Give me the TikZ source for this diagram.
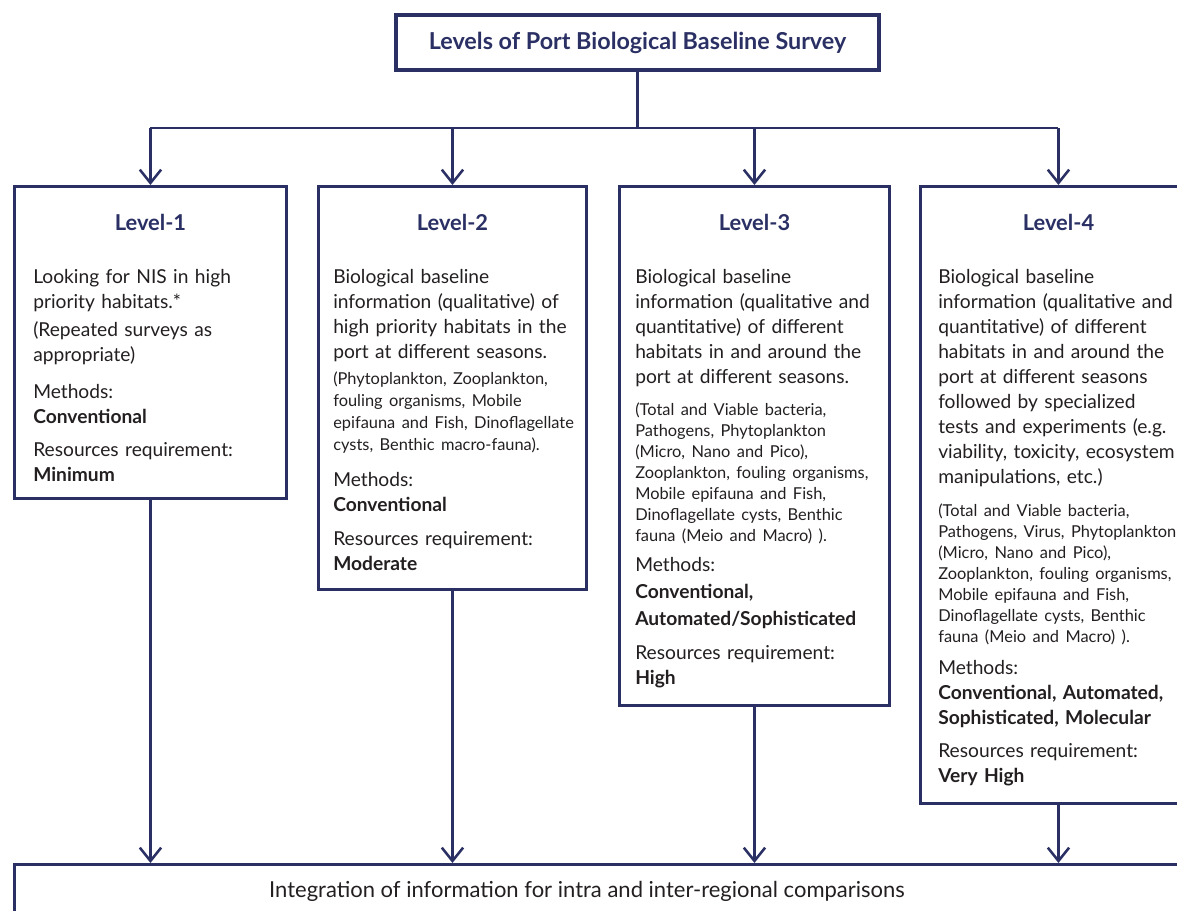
\documentclass[tikz,border=0pt]{standalone}
\usepackage{fontspec}
\setmainfont{Lato}
\usepackage{xcolor}
\usepackage{tikz}
\usetikzlibrary{positioning,arrows.meta}

\definecolor{navy}{RGB}{42,48,100}
\definecolor{ink}{RGB}{35,31,32}
\newlength{\px}
\setlength{\px}{0.75pt}
\newcommand{\bodysize}{\fontsize{14.4}{18.75}\selectfont}
\newcommand{\notesize}{\fontsize{12.3}{15.75}\selectfont}

\begin{document}
\begin{tikzpicture}[
    x=0.75pt, y=-0.75pt,
    titlebox/.style={rectangle, draw=navy, line width=2.3pt, minimum width=483*\px, minimum height=55*\px, font=\fontsize{17.5}{20}\selectfont\bfseries, text=navy},
    levelbox/.style={rectangle, draw=navy, line width=2.2pt, anchor=north west, inner sep=0pt},
    head/.style={font=\fontsize{16.4}{19}\selectfont\bfseries, text=navy},
    body/.style={anchor=north west, inner sep=0pt, align=left, text=ink, font=\bodysize},
    link/.style={draw=navy, line width=1.9pt},
    arrow/.style={link, -{Straight Barb[length=10pt, width=16pt]}}
]
\clip (0,0) rectangle (1177,910);
\useasboundingbox (0,0) rectangle (1177,910);

\node[titlebox] (title) at (637.5,42.5) {Levels of Port Biological Baseline Survey};
\coordinate (split) at (637.5,128);

% the four levels
\node[levelbox, minimum width=272*\px, minimum height=312*\px] (l1) at (13,185) {};
\node[levelbox, minimum width=268*\px, minimum height=403*\px] (l2) at (317,185) {};
\node[levelbox, minimum width=270*\px, minimum height=519*\px] (l3) at (618,185) {};
\node[levelbox, minimum width=276*\px, minimum height=617*\px] (l4) at (919,185) {};

\node[head] (h1) at ([yshift=-37*\px]l1.north) {Level-1};
\node[head] (h2) at ([yshift=-37*\px]l2.north) {Level-2};
\node[head] (h3) at ([yshift=-37*\px]l3.north) {Level-3};
\node[head] (h4) at ([yshift=-37*\px]l4.north) {Level-4};

\node[body, text width=250*\px] (t1) at ([shift={(20,84)}]l1.north west) {%
Looking for NIS in high\\ priority habitats.*\par\vspace{2pt}
(Repeated surveys as\\ appropriate)\par\vspace{9.5pt}
Methods:\\ \textbf{Conventional}\par\vspace{5.5pt}
Resources requirement:\\ \textbf{Minimum}};

\node[body, text width=255*\px] (t2) at ([shift={(16,84)}]l2.north west) {%
Biological baseline\\ information (qualitative) of\\ high priority habitats in the\\ port at different seasons.\par\vspace{3pt}
{\fontsize{12.3}{16.5}\selectfont (Phytoplankton, Zooplankton,\\ fouling organisms, Mobile\\ epifauna and Fish, Dinoflagellate\\ cysts, Benthic macro-fauna).\par}\vspace{8pt}
Methods:\\ \textbf{Conventional}\par\vspace{7pt}
Resources requirement:\\ \textbf{Moderate}};

\node[body, text width=255*\px] (t3) at ([shift={(17,84)}]l3.north west) {%
Biological baseline\\ information (qualitative and\\ quantitative) of different\\ habitats in and around the\\ port at different seasons.\par\vspace{8.5pt}
{\notesize (Total and Viable bacteria,\\ Pathogens, Phytoplankton\\ (Micro, Nano and Pico),\\ Zooplankton, fouling organisms,\\ Mobile epifauna and Fish,\\ Dinoflagellate cysts, Benthic\\ fauna (Meio and Macro) ).\par}\vspace{3.5pt}
Methods:\\[1.5pt] \textbf{Conventional,}\\[1.5pt] \textbf{Automated/Sophisticated}\par\vspace{6.5pt}
Resources requirement:\\ \textbf{High}};

\node[body, text width=255*\px] (t4) at ([shift={(19,84)}]l4.north west) {%
Biological baseline\\ information (qualitative and\\ quantitative) of different\\ habitats in and around the\\ port at different seasons\\ followed by specialized\\ tests and experiments (e.g.\\ viability, toxicity, ecosystem\\ manipulations, etc.)\par\vspace{9pt}
{\notesize (Total and Viable bacteria,\\ Pathogens, Virus, Phytoplankton\\ (Micro, Nano and Pico),\\ Zooplankton, fouling organisms,\\ Mobile epifauna and Fish,\\ Dinoflagellate cysts, Benthic\\ fauna (Meio and Macro) ).\par}\vspace{5pt}
Methods:\\ \textbf{Conventional, Automated,}\\ \textbf{Sophisticated, Molecular}\par\vspace{6pt}
Resources requirement:\\ \textbf{Very High}};

% integration box
\node[levelbox, minimum width=1200*\px, minimum height=80*\px] (integ) at (13,863) {};
\node[text=ink, font=\fontsize{16.5}{19}\selectfont] (integtext) at (587,891) {Integration of information for intra and inter-regional comparisons};

% connectors
\draw[link] (title.south) -- (split);
\draw[link] (l1.north |- split) -- (l4.north |- split);
\draw[arrow] (l1.north |- split) -- (l1.north);
\draw[arrow] (l2.north |- split) -- (l2.north);
\draw[arrow] (l3.north |- split) -- (l3.north);
\draw[arrow] (l4.north |- split) -- (l4.north);

\draw[arrow] (l1.south) -- (l1.south |- integ.north);
\draw[arrow] (l2.south) -- (l2.south |- integ.north);
\draw[arrow] (l3.south) -- (l3.south |- integ.north);
\draw[arrow] (l4.south) -- (l4.south |- integ.north);

\end{tikzpicture}
\end{document}
